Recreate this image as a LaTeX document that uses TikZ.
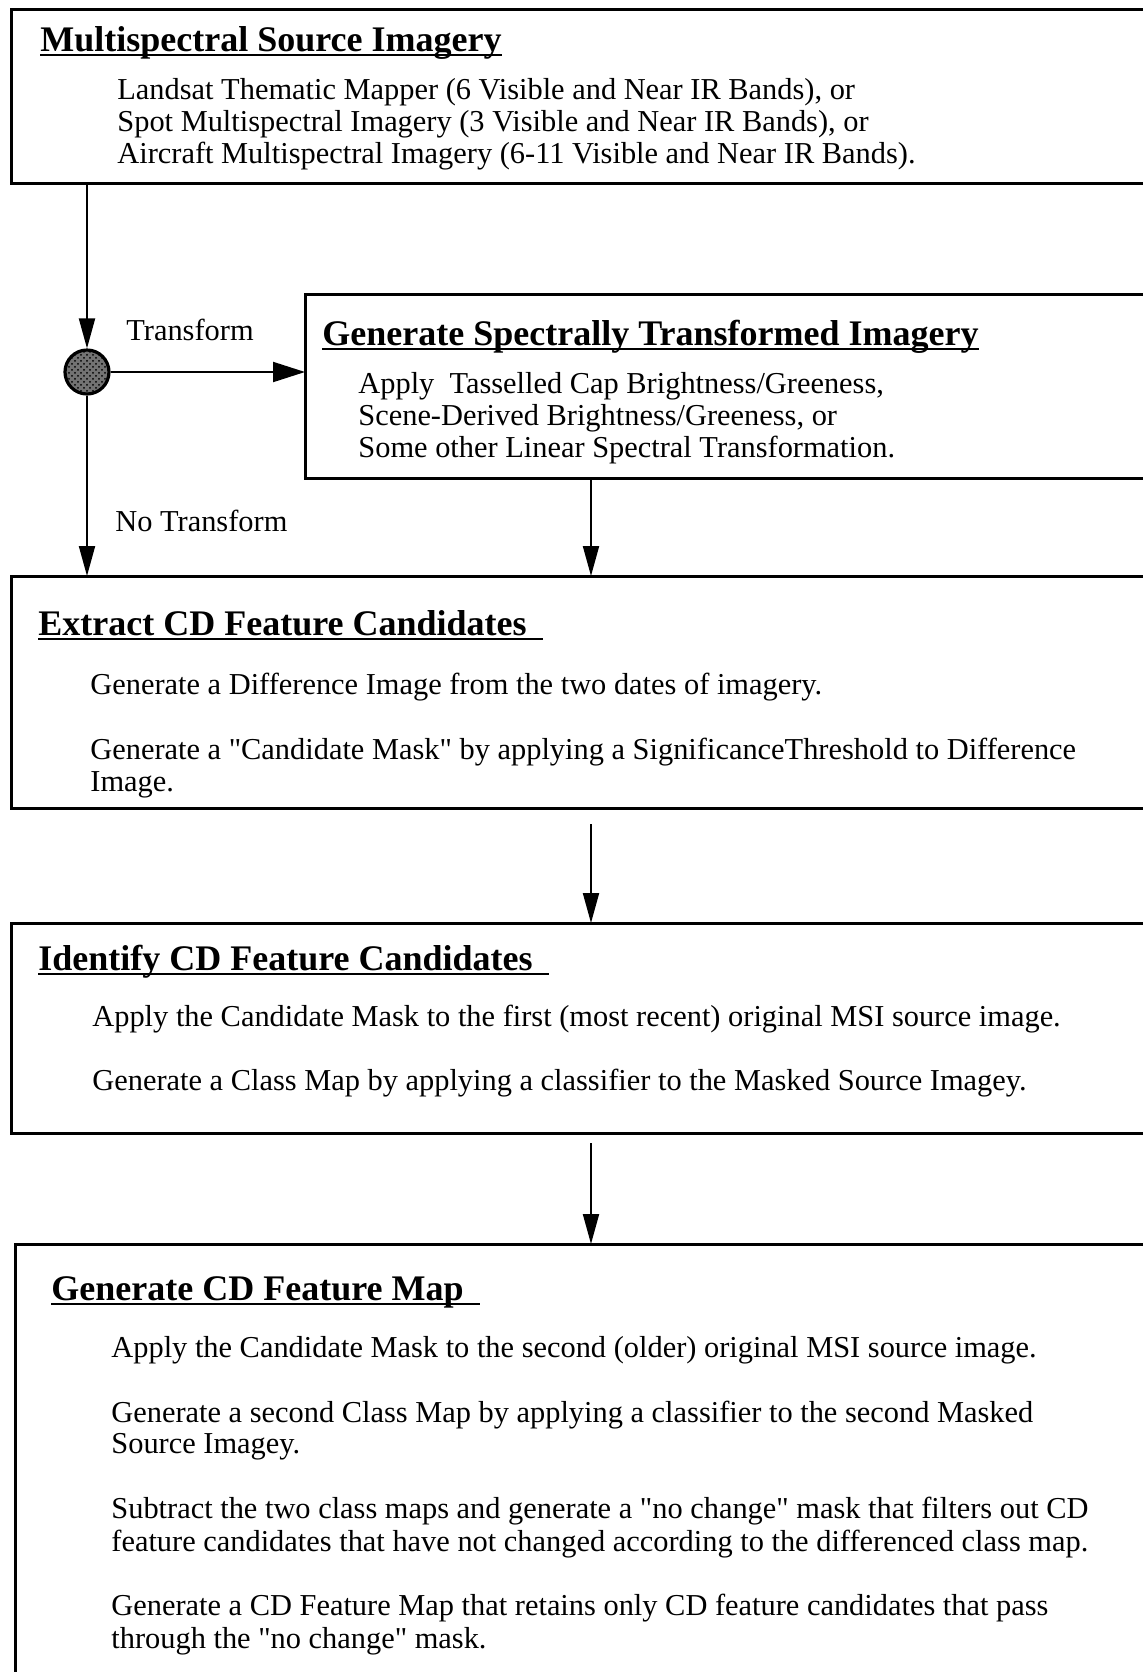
\documentclass[tikz,border=0pt]{standalone}
\usepackage{fontspec}
\setmainfont{Liberation Serif}
\newfontfamily\plainqfont{Liberation Serif}
\usetikzlibrary{arrows.meta,calc,patterns}
\newcommand{\sq}{{\plainqfont"}}
\begin{document}
\begin{tikzpicture}[x=0.5pt,y=-0.5pt,
  box/.style={draw, line width=1.5pt, anchor=north west, inner sep=0pt, outer sep=0pt},
  ttl/.style={anchor=base west, inner sep=0pt, font=\fontsize{18}{20}\selectfont\bfseries},
  txt/.style={anchor=base west, inner sep=0pt, font=\fontsize{15.2}{16}\selectfont},
  arr/.style={line width=1pt, -{Triangle[width=8pt,length=15pt]}},
  uline/.style={line width=1.2pt}]
\useasboundingbox (0,0) rectangle (1142,1672);

% boxes
\node[box, minimum width=569.5pt, minimum height=87pt] (b1) at (11,9) {};
\node[box, minimum width=422.5pt, minimum height=92pt] (b2) at (305,294) {};
\node[box, minimum width=569.5pt, minimum height=116pt] (b3) at (11,576) {};
\node[box, minimum width=569.5pt, minimum height=105pt] (b4) at (11,923) {};
\node[box, minimum width=567.5pt, minimum height=223.5pt] (b5) at (15,1244) {};

% junction
\node[circle, draw, line width=1.6pt, preaction={fill=black!55}, pattern=crosshatch dots, pattern color=black, minimum size=22pt, inner sep=0pt] (c) at (87,372) {};
\coordinate (mx) at (591,0);

% connectors
\draw[arr] (b1.south -| c) -- (c.north);
\draw[line width=1pt, -{Triangle[width=10pt,length=16pt]}] (c.east) -- (c.east -| b2.west);
\draw[arr] (c.south) -- (c.south |- b3.north);
\draw[arr] (b2.south -| mx) -- (b3.north -| mx);
\draw[arr, shorten <=8pt] (b3.south -| mx) -- (b4.north -| mx);
\draw[arr, shorten <=5pt] (b4.south -| mx) -- (b5.north -| mx);

% labels
\node[txt] (lt) at (126,340) {Transform};
\node[txt] (lnt) at (115,531) {No Transform};

% box 1
\node[ttl] (t1) at (40,51) {Multispectral Source Imagery};
\draw[uline] ([yshift=-2pt]t1.base west) -- ([yshift=-2pt]t1.base east);
\node[txt] (a1) at (117,99) {Landsat Thematic Mapper (6 Visible and Near IR Bands), or};
\node[txt] (a2) at (117,131) {Spot Multispectral Imagery (3 Visible and Near IR Bands), or};
\node[txt] (a3) at (117,163) {Aircraft Multispectral Imagery (6-11 Visible and Near IR Bands).};

% box 2
\node[ttl] (t2) at (322,345) {Generate Spectrally Transformed Imagery};
\draw[uline] ([yshift=-2pt]t2.base west) -- ([yshift=-2pt]t2.base east);
\node[txt] (s1) at (358,393) {Apply\ \ Tasselled Cap Brightness/Greeness,};
\node[txt] (s2) at (358,425) {Scene-Derived Brightness/Greeness, or};
\node[txt] (s3) at (358,457) {Some other Linear Spectral Transformation.};

% box 3
\node[ttl] (t3) at (38,635) {Extract CD Feature Candidates};
\draw[uline] ([yshift=-2pt]t3.base west) -- ([yshift=-2pt,xshift=8pt]t3.base east);
\node[txt] (e1) at (90,694) {Generate a Difference Image from the two dates of imagery.};
\node[txt] (e2) at (90,759) {Generate a \sq Candidate Mask\sq{} by applying a SignificanceThreshold to Difference};
\node[txt] (e3) at (90,791) {Image.};

% box 4
\node[ttl] (t4) at (38,970) {Identify CD Feature Candidates};
\draw[uline] ([yshift=-2pt]t4.base west) -- ([yshift=-2pt,xshift=8pt]t4.base east);
\node[txt] (i1) at (92,1026) {Apply the Candidate Mask to the first (most recent) original MSI source image.};
\node[txt] (i2) at (92,1090) {Generate a Class Map by applying a classifier to the Masked Source Imagey.};

% box 5
\node[ttl] (t5) at (51,1300) {Generate CD Feature Map};
\draw[uline] ([yshift=-2pt]t5.base west) -- ([yshift=-2pt,xshift=8pt]t5.base east);
\node[txt] (g1) at (111,1357) {Apply the Candidate Mask to the second (older) original MSI source image.};
\node[txt] (g2) at (111,1422) {Generate a second Class Map by applying a classifier to the second Masked};
\node[txt] (g3) at (111,1453) {Source Imagey.};
\node[txt] (g4) at (111,1518) {Subtract the two class maps and generate a \sq no change\sq{} mask that filters out CD};
\node[txt] (g5) at (111,1551) {feature candidates that have not changed according to the differenced class map.};
\node[txt] (g6) at (111,1615) {Generate a CD Feature Map that retains only CD feature candidates that pass};
\node[txt] (g7) at (111,1648) {through the \sq no change\sq{} mask.};
\end{tikzpicture}
\end{document}
